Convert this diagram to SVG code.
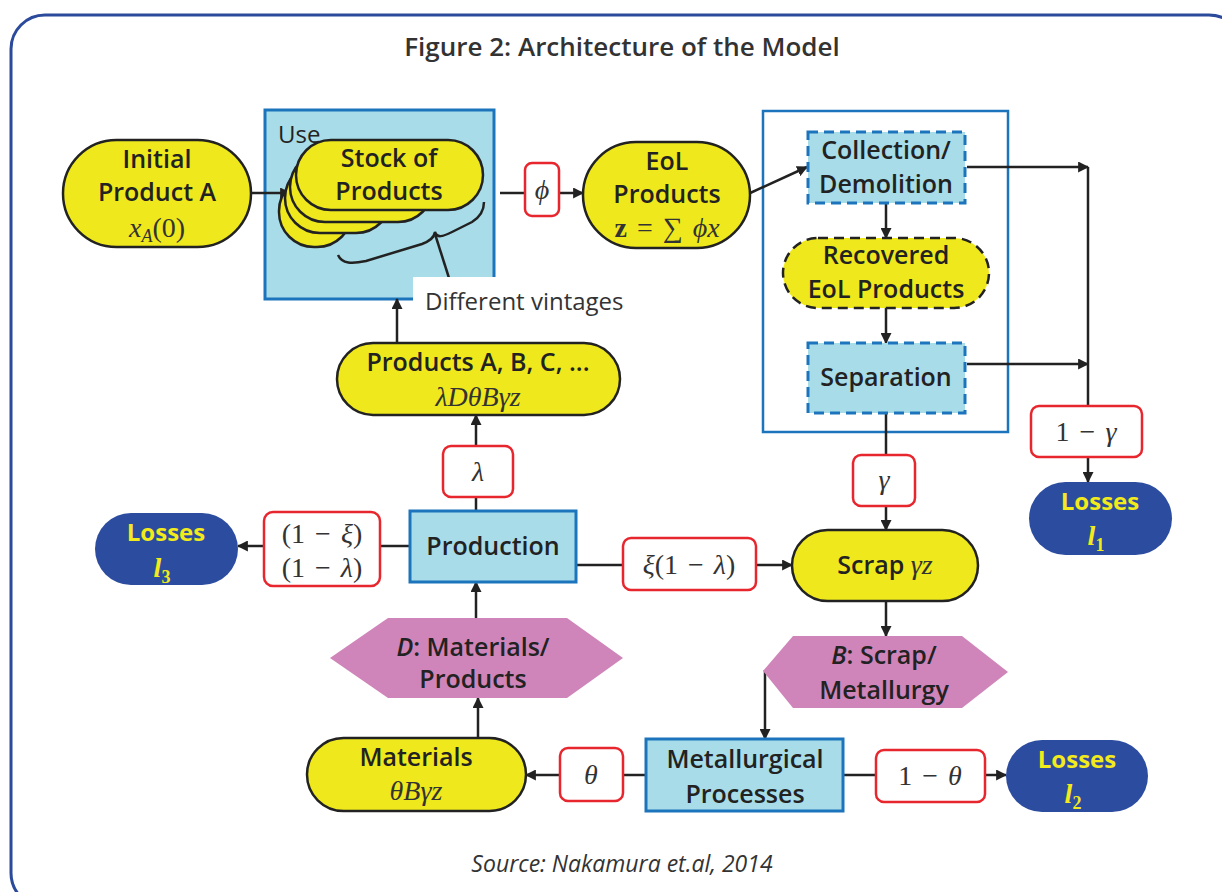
<svg xmlns="http://www.w3.org/2000/svg" width="1222" height="892" viewBox="0 0 1222 892">
<style>
.y{fill:#eee81c;stroke:#222;stroke-width:2.5}
.b{fill:#a7dce8;stroke:#1c75bc;stroke-width:3}
.bd{fill:#a7dce8;stroke:#1c75bc;stroke-width:3;stroke-dasharray:10 6}
.r{fill:#fff;stroke:#e8262d;stroke-width:2.5}
.n{fill:#2c4c9f}
.p{fill:#cf85ba}
.t{font-family:"Open Sans","Liberation Sans",sans-serif;font-weight:600;font-size:25px;fill:#222;text-anchor:middle}
.m{font-family:"Liberation Serif","DejaVu Serif",serif;font-size:28px;fill:#333;text-anchor:middle;word-spacing:3px}
.i{font-style:italic}
.l{font-family:"Open Sans","Liberation Sans",sans-serif;font-weight:700;font-size:24px;fill:#f2ea1a;text-anchor:middle}
.lm{font-family:"Liberation Serif","DejaVu Serif",serif;font-weight:700;font-style:italic;font-size:28px;fill:#f2ea1a;text-anchor:middle}
.c{fill:none;stroke:#222;stroke-width:2.5}
.a{fill:none;stroke:#222;stroke-width:2.5;marker-end:url(#ah)}
</style>
<defs>
<marker id="ah" viewBox="0 0 10 10" refX="9" refY="5" markerWidth="11" markerHeight="11" markerUnits="userSpaceOnUse" orient="auto">
<path d="M0,0 L10,5 L0,10 z" fill="#222"/>
</marker>
</defs>
<rect x="11" y="15" width="1232" height="892" rx="34" fill="#fff" stroke="#2b4a9b" stroke-width="3"/>
<text x="622" y="56" font-family="'Open Sans','Liberation Sans',sans-serif" font-weight="600" font-size="26" fill="#333" text-anchor="middle">Figure 2: Architecture of the Model</text>

<g id="use">
<rect x="265" y="110" width="229" height="189" class="b"/>
<text x="278" y="143" font-family="'Open Sans','Liberation Sans',sans-serif" font-size="24" fill="#222">Use</text>
</g>
<g id="right-box"><rect x="763" y="111" width="245" height="321" fill="#fff" stroke="#1c75bc" stroke-width="2.5"/></g>

<g id="connectors">
<path class="a" d="M251,193 H290"/>
<path class="c" d="M500,193 H525"/>
<path class="a" d="M559,193 H583"/>
<path class="a" d="M748,194 L807,167"/>
<path class="a" d="M886,203 V238"/>
<path class="a" d="M886,308 V343"/>
<path class="a" d="M967,167 H1088"/>
<path class="a" d="M967,364 H1088"/>
<path class="c" d="M1088,167 V406"/>
<path class="a" d="M1088,457 V482"/>
<path class="c" d="M886,413 V455"/>
<path class="a" d="M886,506 V530"/>
<path class="c" d="M576,565 H623"/>
<path class="a" d="M756,565 H792"/>
<path class="a" d="M886,601 V636"/>
<path class="a" d="M765,670 V739"/>
<path class="c" d="M646,775 H623"/>
<path class="a" d="M560,775 H526"/>
<path class="c" d="M843,775 H876"/>
<path class="a" d="M985,775 H1006"/>
<path class="a" d="M478,738 V698"/>
<path class="a" d="M476,618 V582"/>
<path class="c" d="M476,511 V497"/>
<path class="a" d="M476,446 V415"/>
<path class="a" d="M397,343 V299"/>
<path class="c" d="M410,546 H380"/>
<path class="a" d="M264,546 H238"/>
</g>

<g id="initial">
<rect x="63" y="140" width="188" height="107" rx="53.5" class="y"/>
<text class="t" x="157" y="168">Initial</text>
<text class="t" x="157" y="201">Product A</text>
<text class="m" x="157" y="237"><tspan class="i">x</tspan><tspan class="i" font-size="18" dy="5">A</tspan><tspan dy="-5">(0)</tspan></text>
</g>

<g id="stock">
<rect x="279" y="176" width="73" height="71" rx="35" class="y"/>
<rect x="285" y="163" width="106" height="70" rx="35" class="y"/>
<rect x="290" y="152" width="143" height="70" rx="35" class="y"/>
<rect x="296" y="140" width="187" height="70" rx="35" class="y"/>
<text class="t" x="389" y="167">Stock of</text>
<text class="t" x="389" y="200">Products</text>
<path class="c" stroke-width="2" d="M338,255 C342,264 352,264 366,261 L422,244 C430,241 434,238 435,232 C437,238 442,237 452,232 L472,222 C480,217 484,210 484,202"/>
<path class="c" stroke-width="2" d="M435,234 L449,278"/>
</g>

<g id="vintages">
<rect x="413" y="277" width="230" height="46" fill="#fff"/>
<text x="425" y="310" font-family="'Open Sans','Liberation Sans',sans-serif" font-size="24" fill="#333">Different vintages</text>
</g>

<g id="phi">
<rect x="525" y="163" width="34" height="53" rx="7" class="r"/>
<text class="m i" x="542" y="199">ϕ</text>
</g>

<g id="eol">
<rect x="583" y="142" width="167" height="106" rx="53" class="y"/>
<text class="t" x="667" y="170">EoL</text>
<text class="t" x="667" y="203">Products</text>
<text class="m" x="667" y="237"><tspan font-weight="700">z</tspan> = ∑ <tspan class="i">ϕx</tspan></text>
</g>

<g id="collection">
<rect x="808" y="132" width="157" height="71" class="bd"/>
<text class="t" x="886" y="159">Collection/</text>
<text class="t" x="886" y="193">Demolition</text>
</g>

<g id="recovered">
<rect x="783" y="238" width="206" height="70" rx="35" class="y" stroke-dasharray="10 6"/>
<text class="t" x="886" y="264">Recovered</text>
<text class="t" x="886" y="298">EoL Products</text>
</g>

<g id="separation">
<rect x="808" y="343" width="157" height="70" class="bd"/>
<text class="t" x="886" y="386">Separation</text>
</g>

<g id="one-minus-gamma">
<rect x="1031" y="406" width="111" height="51" rx="8" class="r"/>
<text class="m" x="1086" y="441">1 − <tspan class="i">γ</tspan></text>
</g>

<g id="losses1">
<rect x="1029" y="482" width="143" height="73" rx="36.5" class="n"/>
<text class="l" x="1100" y="510">Losses</text>
<text class="lm" x="1096" y="545">l<tspan font-size="18" dy="6" font-style="normal">1</tspan></text>
</g>

<g id="gamma">
<rect x="853" y="455" width="62" height="51" rx="8" class="r"/>
<text class="m i" x="884" y="489">γ</text>
</g>

<g id="scrap">
<rect x="792" y="530" width="186" height="71" rx="35.5" class="y"/>
<text class="t" x="885" y="574">Scrap <tspan class="m i" font-weight="400">γz</tspan></text>
</g>

<g id="xi">
<rect x="623" y="538" width="133" height="52" rx="8" class="r"/>
<text class="m" x="689" y="574"><tspan class="i">ξ</tspan>(1 − <tspan class="i">λ</tspan>)</text>
</g>

<g id="B">
<polygon points="763,671 793,636 962,636 1008,672 962,708 793,708" class="p"/>
<text class="t" x="884" y="664"><tspan font-style="italic">B</tspan>: Scrap/</text>
<text class="t" x="884" y="699">Metallurgy</text>
</g>

<g id="metallurgical">
<rect x="646" y="739" width="197" height="72" class="b"/>
<text class="t" x="745" y="768">Metallurgical</text>
<text class="t" x="745" y="803">Processes</text>
</g>

<g id="theta">
<rect x="560" y="748" width="63" height="53" rx="8" class="r"/>
<text class="m i" x="591" y="784">θ</text>
</g>

<g id="materials">
<rect x="307" y="738" width="219" height="73" rx="36.5" class="y"/>
<text class="t" x="416" y="766">Materials</text>
<text class="m i" x="416" y="800">θBγz</text>
</g>

<g id="one-minus-theta">
<rect x="876" y="750" width="109" height="52" rx="8" class="r"/>
<text class="m" x="930" y="785">1 − <tspan class="i">θ</tspan></text>
</g>

<g id="losses2">
<rect x="1006" y="740" width="142" height="72" rx="36" class="n"/>
<text class="l" x="1077" y="768">Losses</text>
<text class="lm" x="1073" y="803">l<tspan font-size="18" dy="6" font-style="normal">2</tspan></text>
</g>

<g id="D">
<polygon points="330,658 388,618 567,618 623,658 567,698 388,698" class="p"/>
<text class="t" x="473" y="656"><tspan font-style="italic">D</tspan>: Materials/</text>
<text class="t" x="473" y="688">Products</text>
</g>

<g id="production">
<rect x="410" y="511" width="166" height="71" class="b"/>
<text class="t" x="493" y="555">Production</text>
</g>

<g id="lambda">
<rect x="443" y="446" width="70" height="51" rx="8" class="r"/>
<text class="m i" x="478" y="481">λ</text>
</g>

<g id="products">
<rect x="337" y="343" width="283" height="72" rx="36" class="y"/>
<text class="t" x="478" y="371">Products A, B, C, ...</text>
<text class="m i" x="478" y="406">λDθBγz</text>
</g>

<g id="xi-lambda">
<rect x="264" y="512" width="116" height="74" rx="9" class="r"/>
<text class="m" x="322" y="543">(1 − <tspan class="i">ξ</tspan>)</text>
<text class="m" x="322" y="577">(1 − <tspan class="i">λ</tspan>)</text>
</g>

<g id="losses3">
<rect x="95" y="513" width="143" height="72" rx="36" class="n"/>
<text class="l" x="166" y="541">Losses</text>
<text class="lm" x="162" y="577">l<tspan font-size="18" dy="6" font-style="normal">3</tspan></text>
</g>

<text x="622" y="872" font-family="'Open Sans','Liberation Sans',sans-serif" font-style="italic" font-size="23" fill="#333" text-anchor="middle">Source: Nakamura et.al, 2014</text>
</svg>
